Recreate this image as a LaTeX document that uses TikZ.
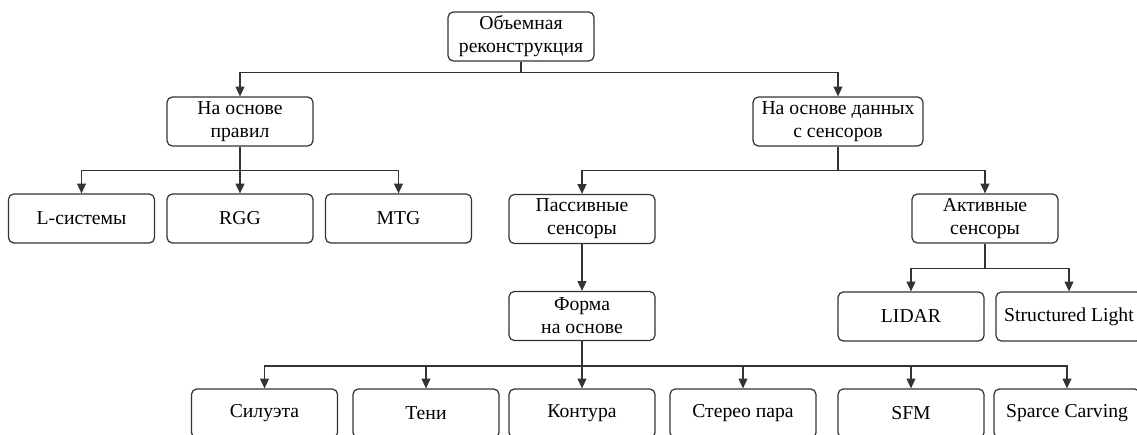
\documentclass[tikz,border=0pt]{standalone}
\usepackage{fontspec}
\setmainfont{Liberation Serif}
\usetikzlibrary{arrows.meta}

\tikzset{
    block/.style={draw=black!80, line width=0.7pt, rounded corners=3pt,
        minimum width=2.92cm, minimum height=0.98cm, align=center,
        inner sep=1pt, font=\fontsize{11.2}{13.1}\selectfont},
    link/.style={draw=black!80, line width=0.7pt,
        -{Triangle[length=5.5pt,width=5pt]}},
}

\begin{document}
\begin{tikzpicture}[x=0.02cm, y=-0.02cm]
            \clip (0,0) rectangle (1137,435);
            \fill[white] (0,0) rectangle (1137,435);

            \node[block] (root) at (521,36.5) {Объемная\\реконструкция};

            \node[block] (rules) at (240,121.5) {На основе\\правил};
            \node[block, minimum width=3.4cm] (data) at (838,121.5) {На основе данных\\с сенсоров};

            \node[block] (lsys) at (81.5,218.5) {L-системы};
            \node[block] (rgg) at (240,218.5) {RGG};
            \node[block] (mtg) at (398.5,218.5) {MTG};

            \node[block] (passive) at (582,219) {Пассивные\\сенсоры};
            \node[block] (active) at (985,218.5) {Активные\\сенсоры};

            \node[block] (shape) at (582,316) {Форма\\на основе};
            \node[block] (lidar) at (911,316.5) {LIDAR};
            \node[block] (light) at (1069,316.5) {Structured Light};

            \node[block] (silhouette) at (264.5,413.5) {Силуэта};
            \node[block] (shadow) at (426,413.5) {Тени};
            \node[block] (contour) at (582,413.5) {Контура};
            \node[block] (stereo) at (743,413.5) {Стерео пара};
            \node[block] (sfm) at (911,413.5) {SFM};
            \node[block] (carving) at (1067,413.5) {Sparce Carving};

            \draw[link] (root.south) -- ++(0,11) -| (rules.north);
            \draw[link] (root.south) -- ++(0,11) -| (data.north);

            \draw[link] (rules.south) -- ++(0,24) -| (lsys.north);
            \draw[link] (rules.south) -- (rgg.north);
            \draw[link] (rules.south) -- ++(0,24) -| (mtg.north);

            \draw[link] (data.south) -- ++(0,24) -| (passive.north);
            \draw[link] (data.south) -- ++(0,24) -| (active.north);

            \draw[link] (passive.south) -- (shape.north);

            \draw[link] (active.south) -- ++(0,25) -| (lidar.north);
            \draw[link] (active.south) -- ++(0,25) -| (light.north);

            \foreach \leaf in {silhouette,shadow,stereo,sfm,carving}
                \draw[link] (shape.south) -- ++(0,25) -| (\leaf.north);
            \draw[link] (shape.south) -- (contour.north);
\end{tikzpicture}
\end{document}
